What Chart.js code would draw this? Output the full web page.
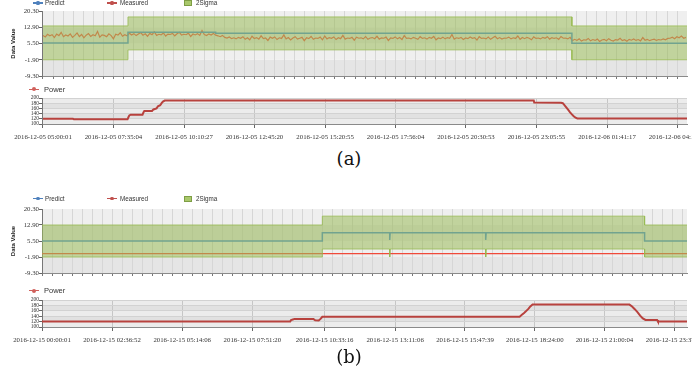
<!DOCTYPE html>
<html>
<head>
<meta charset="utf-8">
<script src="https://cdn.jsdelivr.net/npm/chart.js@4.4.1/dist/chart.umd.min.js"></script>
<style>
  body { margin: 0; width: 692px; height: 377px; background: #fff; position: relative; overflow: hidden; font-family: "Liberation Sans", Arial, sans-serif; }
  canvas { position: absolute; left: 0; }
  .lg { position: absolute; font-size: 6.3px; line-height: 8px; color: #333; white-space: nowrap; }
  .lgp { position: absolute; font-size: 7.5px; line-height: 9px; color: #333; white-space: nowrap; }
  .cap { position: absolute; font-family: "DejaVu Serif", serif; font-size: 18px; color: #111; transform: translate(-50%, -50%); }
</style>
</head>
<body>
<canvas id="a1" width="692" height="80" style="top:0px"></canvas>
<canvas id="a2" width="692" height="60" style="top:84px"></canvas>
<canvas id="b1" width="692" height="87" style="top:190px"></canvas>
<canvas id="b2" width="692" height="61" style="top:286px"></canvas>
<div class="cap" style="left:349px;top:158px">(a)</div>
<div class="cap" style="left:349px;top:356px">(b)</div>
<script>
// axis labels
const xLabelsA = ["2016-12-05 05:00:01", "2016-12-05 07:35:04", "2016-12-05 10:10:27", "2016-12-05 12:45:20",
  "2016-12-05 15:20:55", "2016-12-05 17:56:04", "2016-12-05 20:30:53", "2016-12-05 23:05:55",
  "2016-12-06 01:41:17", "2016-12-06 04:16:40"];
const xLabelsB = ["2016-12-15 00:00:01", "2016-12-15 02:36:52", "2016-12-15 05:14:06", "2016-12-15 07:51:20",
  "2016-12-15 10:33:16", "2016-12-15 13:11:06", "2016-12-15 15:47:39", "2016-12-15 18:24:00",
  "2016-12-15 21:00:04", "2016-12-15 23:37:10"];
const yTicksTop = [-9.3, -1.9, 5.5, 12.9, 20.3];
const yTicksPower = [100, 120, 140, 160, 180, 200];

// (a) minutes after first label, value
const predictA = [[0, 5.7], [187, 5.7], [187, 10.6], [380, 10.6], [380, 10.2], [1164, 10.2], [1164, 5.6], [1418, 5.6]];
const upperA = [[0, 13.5], [187, 13.5], [187, 17.6], [380, 17.6], [380, 17.6], [1164, 17.6], [1164, 13.5], [1418, 13.5]];
const lowerA = [[0, -1.9], [187, -1.9], [187, 2.6], [380, 2.6], [380, 2.6], [1164, 2.6], [1164, -1.9], [1418, -1.9]];
// measured, one sample every 5 minutes
const measuredStepA = 5;
const measuredA = [
  9.1, 8.5, 9.7, 9.0, 9.5, 8.2, 9.8, 9.1, 10.6, 8.6, 9.4, 8.9, 9.9, 8.3, 9.2, 10.3, 8.7, 9.6, 8.1, 9.3,
  10.0, 8.7, 9.5, 9.0, 11.0, 8.4, 9.4, 9.2, 8.6, 9.9, 9.1, 7.6, 9.7, 9.3, 10.4, 8.8, 9.5, 9.0,
  10.2, 9.4, 10.0, 9.1, 9.8, 10.5, 9.3, 9.9, 8.8, 10.1, 9.5, 10.8, 9.2, 9.7, 9.4, 10.3, 8.9, 9.8, 9.6, 10.1,
  9.0, 9.9, 10.6, 9.3, 9.7, 9.5, 10.2, 8.7, 9.8, 9.4, 10.0, 9.2, 11.4, 9.6, 9.1, 9.9, 9.4, 10.1, 9.3,
  9.0, 8.6, 9.2, 8.3, 8.0, 8.5, 7.7, 8.1,
  7.6, 8.3, 7.9, 8.6, 7.4, 8.1, 7.2, 8.8, 7.8, 8.2, 7.5, 9.0, 7.7, 8.0, 6.9, 8.4, 7.9, 8.5, 7.3, 8.1,
  7.8, 9.4, 7.6, 8.2, 7.1, 8.0, 8.6, 7.5, 7.9, 8.3, 6.8, 8.1, 7.7, 8.7, 7.4, 8.0, 7.8, 8.4, 7.2, 8.9,
  7.6, 8.2, 7.9, 8.5, 7.3, 8.1, 7.7, 9.2, 7.5, 8.0, 7.8, 8.3, 7.0, 8.4, 7.9, 8.1, 7.6, 8.6, 7.4, 8.0,
  8.2, 7.7, 8.8, 7.5, 8.1, 7.9, 8.4, 6.9, 8.0, 7.8, 8.5, 7.6, 8.2, 7.3, 9.1, 7.8, 8.0, 7.6, 8.3, 7.9,
  7.4, 8.6, 7.8, 8.1, 7.5, 8.3, 7.9, 8.7, 7.2, 8.0, 7.7, 8.4, 7.6, 8.2, 7.9, 9.6, 7.5, 8.1, 7.8, 8.3,
  7.3, 8.0, 7.7, 8.5, 7.9, 8.2, 7.1, 8.6, 7.8, 8.0, 7.6, 8.4, 7.4, 8.1, 8.8, 7.7, 8.2, 7.5, 8.0, 7.9,
  8.4, 7.6, 8.1, 7.8, 8.9, 7.4, 8.2, 7.7, 8.3, 7.9, 7.2, 8.5, 7.8, 8.0, 7.6, 8.3, 7.9, 8.6,
  7.5, 8.2, 7.8, 8.1, 7.4, 8.7, 7.9, 8.0, 7.6, 8.3,
  6.8, 7.4, 6.9, 7.6, 6.6, 7.2, 7.0, 7.8, 6.7, 7.3, 6.9, 7.5, 6.4, 7.1, 7.4, 6.8, 7.7, 7.0, 6.6, 7.3,
  7.1, 7.9, 6.8, 7.2, 6.5, 7.4, 7.0, 7.6, 6.9, 7.3, 6.7, 8.2, 7.0, 7.4, 6.8, 7.2, 7.5, 6.9, 7.3, 7.1,
  7.6, 7.2, 7.8,
  7.9, 8.4, 7.7, 8.6, 8.1, 8.9, 7.9, 8.3
];
const powerA = [[0, 120], [66, 120], [68, 118], [186, 118], [188, 126], [190, 133], [193, 136], [219, 136],
  [221, 144], [223, 150], [240, 150], [243, 156], [250, 160], [253, 168], [258, 172], [261, 180], [264, 186],
  [268, 190], [1080, 190], [1081, 183], [1140, 182], [1144, 180], [1148, 172], [1152, 163], [1156, 154],
  [1160, 145], [1164, 137], [1168, 130], [1172, 124], [1176, 121], [1418, 121]];

// (b)
const predictB = [[0, 5.5], [628, 5.5], [628, 9.3], [779, 9.3], [779, 6.0], [780, 9.3], [994, 9.3], [994, 6.0],
  [995, 9.3], [1350, 9.3], [1350, 5.5], [1445, 5.5]];
const upperB = [[0, 12.9], [628, 12.9], [628, 17.0], [779, 17.0], [779, 17.0], [780, 17.0], [994, 17.0], [994, 17.0],
  [995, 17.0], [1350, 17.0], [1350, 12.9], [1445, 12.9]];
const lowerB = [[0, -1.9], [628, -1.9], [628, 1.8], [779, 1.8], [779, -1.9], [780, 1.8], [994, 1.8], [994, -1.9],
  [995, 1.8], [1350, 1.8], [1350, -1.9], [1445, -1.9]];
const measuredB = [[0, -0.3], [1445, -0.3]];
const powerB = [[0, 120], [556, 120], [558, 126], [562, 128], [566, 130], [608, 130], [612, 125], [620, 124],
  [624, 130], [628, 138], [1070, 138], [1075, 145], [1080, 152], [1084, 158], [1090, 168], [1094, 176],
  [1099, 183], [1316, 183], [1322, 176], [1328, 166], [1334, 155], [1340, 142], [1346, 132], [1352, 126],
  [1378, 126], [1380, 120], [1445, 120]];

const tickFont = { family: "Liberation Serif", size: 6.8 };
const pts = arr => arr.map(([x, y]) => ({ x, y }));

function minutesFrom(labels) {
  const t0 = Date.parse(labels[0].replace(" ", "T"));
  return labels.map(s => (Date.parse(s.replace(" ", "T")) - t0) / 60000);
}

// alternating horizontal stripes behind the plot
const stripes = {
  id: "stripes",
  beforeDraw(chart, args, opts) {
    const { ctx, chartArea: a, scales: { y } } = chart;
    const t = y.ticks;
    ctx.save();
    for (let i = 0; i < t.length - 1; i++) {
      const y0 = y.getPixelForValue(t[i].value), y1 = y.getPixelForValue(t[i + 1].value);
      ctx.fillStyle = opts.colors[(t.length - 2 - i) % 2];
      ctx.fillRect(a.left, y1, a.width, y0 - y1);
    }
    ctx.restore();
  }
};

function fixWidth(s) { s.width = 42; s.paddingTop = 0; s.paddingBottom = 0; }

function topChart(id, padTop, range, majors, predict, measured, upper, lower) {
  const minorStep = (majors[1] - majors[0]) / 7;
  const minors = [];
  for (let v = majors[0]; v <= range[1]; v += minorStep) minors.push(v);
  new Chart(document.getElementById(id), {
    type: "line",
    data: {
      datasets: [
        { label: "2Sigma", data: pts(upper), order: 0, fill: "+1", backgroundColor: "rgba(155,187,89,0.55)",
          borderColor: "rgba(150,185,80,0.8)", borderWidth: 1 },
        { label: "2Sigma low", data: pts(lower), order: 1, fill: false, borderColor: "rgba(150,185,80,0.8)", borderWidth: 1 },
        { label: "Predict", data: pts(predict), order: 2, borderColor: "#3f86d0", borderWidth: 1.5 },
        { label: "Measured", data: pts(measured), order: 3, borderColor: "#f04a3a", borderWidth: 1.2 }
      ]
    },
    options: {
      responsive: false, animation: false, devicePixelRatio: 1,
      layout: { padding: { top: padTop, right: 5, left: 0, bottom: 0 } },
      elements: { point: { radius: 0 }, line: { tension: 0 } },
      plugins: { legend: { display: false }, tooltip: { enabled: false },
        stripes: { colors: ["#efefef", "#e5e5e5"] } },
      scales: {
        x: {
          type: "linear", min: range[0], max: range[1],
          afterBuildTicks: s => { s.ticks = minors.map(v => ({ value: v })); },
          ticks: { display: false },
          grid: { color: "#d6d6d6", tickColor: "#777", tickLength: 3 },
          border: { color: "#8a8a8a" },
          afterFit: s => { s.height = 4; s.paddingLeft = 0; s.paddingRight = 0; }
        },
        y: {
          min: -9.3, max: 20.3,
          afterBuildTicks: s => { s.ticks = yTicksTop.map(v => ({ value: v })); },
          ticks: { font: tickFont, color: "#333", padding: 0, autoSkip: false, callback: v => v.toFixed(2) },
          grid: { drawOnChartArea: false, tickLength: 3, tickColor: "#666" },
          border: { color: "#777" },
          title: { display: true, text: "Data Value", color: "#222", padding: { top: 10, bottom: 0 },
            font: { family: "Liberation Sans", size: 6, weight: "bold" } },
          afterFit: fixWidth
        }
      }
    },
    plugins: [stripes]
  });
}

function powerChart(id, padTop, range, majors, labels, power) {
  new Chart(document.getElementById(id), {
    type: "line",
    data: { datasets: [{ label: "Power", data: pts(power), borderColor: "#b8423e", borderWidth: 2 }] },
    options: {
      responsive: false, animation: false, devicePixelRatio: 1,
      layout: { padding: { top: padTop, right: 5, left: 0, bottom: 0 } },
      elements: { point: { radius: 0 }, line: { tension: 0 } },
      plugins: { legend: { display: false }, tooltip: { enabled: false },
        stripes: { colors: ["#ececec", "#e1e1e1"] } },
      scales: {
        x: {
          type: "linear", min: range[0], max: range[1],
          afterBuildTicks: s => { s.ticks = majors.map(v => ({ value: v })); },
          ticks: { font: tickFont, color: "#333", padding: 5, maxRotation: 0, minRotation: 0, autoSkip: false,
            callback: (v, i) => labels[i] },
          grid: { color: "#c6c6c6", tickColor: "#666", tickLength: 4 },
          border: { color: "#8a8a8a" },
          afterFit: s => { s.height = 20; s.paddingLeft = 0; s.paddingRight = 0; }
        },
        y: {
          min: 100, max: 200,
          afterBuildTicks: s => { s.ticks = yTicksPower.map(v => ({ value: v })); },
          ticks: { font: { family: "Liberation Serif", size: 5.5, lineHeight: 1 }, color: "#333", padding: 0, autoSkip: false },
          grid: { color: "#d2d2d2", tickLength: 3, tickColor: "#666" },
          border: { color: "#777" },
          afterFit: fixWidth
        }
      }
    },
    plugins: [stripes]
  });
}

const majorsA = minutesFrom(xLabelsA);
const majorsB = minutesFrom(xLabelsB);
const rangeA = [-2.2, 1417.3];
const rangeB = [0, 1445];
const measuredPtsA = measuredA.map((v, i) => [i * measuredStepA, v]);

topChart("a1", 11, rangeA, majorsA, predictA, measuredPtsA, upperA, lowerA);
powerChart("a2", 14, rangeA, majorsA, xLabelsA, powerA);
topChart("b1", 19, rangeB, majorsB, predictB, measuredB, upperB, lowerB);
powerChart("b2", 14, rangeB, majorsB, xLabelsB, powerB);

// html legends
function addDiv(css, text, cls) {
  const d = document.createElement("div");
  if (cls) d.className = cls;
  d.style.cssText = "position:absolute;" + css;
  if (text) d.textContent = text;
  document.body.appendChild(d);
}
function lineMarker(x, y, color, r) {
  addDiv(`left:${x}px;top:${y - 0.75}px;width:10px;height:1.5px;background:${color}`);
  addDiv(`left:${x + 5 - r}px;top:${y - r}px;width:${2 * r}px;height:${2 * r}px;border-radius:50%;background:${color}`);
}
function topLegend(y) {
  lineMarker(33, y, "#4f81bd", 1.6);
  addDiv(`left:45px;top:${y - 4}px`, "Predict", "lg");
  lineMarker(107, y, "#c0504d", 1.6);
  addDiv(`left:120px;top:${y - 4}px`, "Measured", "lg");
  addDiv(`left:184px;top:${y - 3}px;width:8px;height:6px;background:#a9c86b;border:0.5px solid #7e9e45;box-sizing:border-box`);
  addDiv(`left:196px;top:${y - 4}px`, "2Sigma", "lg");
}
function powerLegend(y) {
  lineMarker(29, y, "#d0605b", 2);
  addDiv(`left:44px;top:${y - 4.5}px`, "Power", "lgp");
}
topLegend(3);
powerLegend(89.3);
topLegend(198.6);
powerLegend(290.7);
</script>
</body>
</html>
